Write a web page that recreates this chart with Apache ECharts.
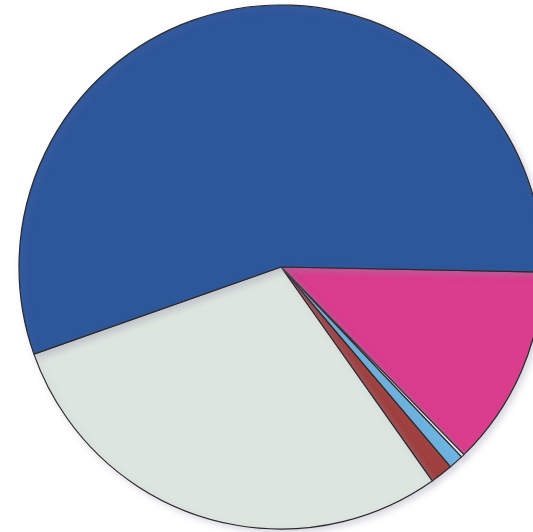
<!DOCTYPE html>
<html>
<head>
<meta charset="utf-8">
<script src="https://cdn.jsdelivr.net/npm/echarts@6/dist/echarts.min.js"></script>
<style>html,body{margin:0;padding:0;background:#fff;}#c{width:533px;height:532px;}</style>
</head>
<body>
<div id="c"></div>
<script>
var categories = ['Pink', 'White', 'Light blue', 'Brown', 'Light grey', 'Blue'];
var values = [12.4, 0.2, 0.9, 1.4, 29.4, 55.7];
var colors = ['#db3d8d', '#ffffff', '#6cb6e4', '#a0403f', '#dde5df', '#2d579b'];

var chart = echarts.init(document.getElementById('c'), null, {renderer: 'canvas'});
chart.setOption({
  backgroundColor: '#ffffff',
  animation: false,
  series: [{
    type: 'pie',
    center: [281, 267],
    radius: 262,
    startAngle: -1.1,
    clockwise: true,
    label: {show: false},
    labelLine: {show: false},
    silent: true,
    itemStyle: {borderColor: '#2a2a2a', borderWidth: 1.2, shadowColor: 'rgba(150,140,170,0.35)', shadowBlur: 6, shadowOffsetX: 3, shadowOffsetY: 3},
    data: categories.map(function (n, i) {
      return {name: n, value: values[i], itemStyle: {color: colors[i]}};
    })
  }]
});
</script>
</body>
</html>
